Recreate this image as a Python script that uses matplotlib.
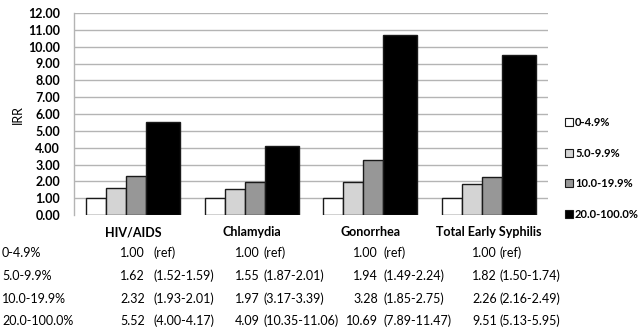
import numpy as np
import matplotlib.pyplot as plt

# ------------------------------------------------------------
#  Data
# ------------------------------------------------------------
categories = ["HIV/AIDS", "Chlamydia", "Gonorrhea", "Total Early Syphilis"]
groups = ["0-4.9%", "5.0-9.9%", "10.0-19.9%", "20.0-100.0%"]

irr_low = [1.00, 1.00, 1.00, 1.00]          # 0-4.9%
irr_mid = [1.62, 1.55, 1.94, 1.82]          # 5.0-9.9%
irr_high = [2.32, 1.97, 3.28, 2.26]         # 10.0-19.9%
irr_top = [5.52, 4.09, 10.69, 9.51]         # 20.0-100.0%

ci_low = ["(ref)", "(ref)", "(ref)", "(ref)"]
ci_mid = ["(1.52-1.59)", "(1.87-2.01)", "(1.49-2.24)", "(1.50-1.74)"]
ci_high = ["(1.93-2.01)", "(3.17-3.39)", "(1.85-2.75)", "(2.16-2.49)"]
ci_top = ["(4.00-4.17)", "(10.35-11.06)", "(7.89-11.47)", "(5.13-5.95)"]

yticks = np.arange(0, 13, 1)

series = [irr_low, irr_mid, irr_high, irr_top]
cis = [ci_low, ci_mid, ci_high, ci_top]

# ------------------------------------------------------------
#  Style
# ------------------------------------------------------------
plt.rcParams["font.family"] = ["Lato", "DejaVu Sans"]
colors = ["#ffffff", "#d4d4d4", "#979797", "#000000"]
# bar left edge offset / width (category spacing = 1)
offsets = [-0.397, -0.228, -0.059, 0.110]
widths = [0.169, 0.169, 0.169, 0.287]

W, H = 638, 328
fig = plt.figure(figsize=(W / 100, H / 100), dpi=100)
ax = fig.add_axes([74 / W, 1 - 215 / H, 474 / W, 202 / H])

x = np.arange(len(categories))
for vals, col, off, w in zip(series, colors, offsets, widths):
    ax.bar(x + off, vals, width=w, align="edge", color=col,
           edgecolor="#1a1a1a", linewidth=1.0, zorder=3)

ax.set_xlim(-0.5, len(categories) - 0.5)
ax.set_ylim(0, 12)
ax.set_yticks(yticks)
ax.set_yticklabels([f"{v:.2f}" for v in yticks], fontsize=9,
                   fontweight="bold")
ax.tick_params(axis="y", length=0, pad=10)
ax.set_xticks(x)
ax.set_xticklabels(categories, fontsize=9, fontweight="bold")
ax.tick_params(axis="x", length=0, pad=8)

for v in yticks[1:]:
    ax.axhline(v, color="#b4b4b4", linewidth=1.0, zorder=1)

for s in ["top", "right", "bottom"]:
    ax.spines[s].set_visible(False)
ax.spines["left"].set_color("#b4b4b4")
ax.spines["left"].set_linewidth(1.0)

fig.text(18 / W, 1 - 115 / H, "IRR", rotation=90, fontsize=9,
         ha="center", va="center")

# legend (drawn manually to match layout)
leg_y = [122, 153, 183, 214]
for lab, col, yy in zip(groups, colors, leg_y):
    fig.patches.append(plt.Rectangle((565 / W, 1 - (yy + 4) / H), 8 / W, 8 / H,
                                     transform=fig.transFigure,
                                     facecolor=col, edgecolor="#1a1a1a",
                                     linewidth=0.8))
    fig.text(575 / W, 1 - yy / H, lab, fontsize=8, fontweight="bold",
             ha="left", va="center")

# table underneath
row_y = [253, 276, 299, 321]
val_right = [145, 260, 378, 497]
ci_left = [154, 264, 384, 500]
for lab, vals, cl, yy in zip(groups, series, cis, row_y):
    fig.text(2 / W, 1 - yy / H, lab, fontsize=9, ha="left", va="center")
    for v, c, xr, xc in zip(vals, cl, val_right, ci_left):
        fig.text(xr / W, 1 - yy / H, f"{v:.2f}", fontsize=9,
                 ha="right", va="center")
        fig.text(xc / W, 1 - yy / H, c, fontsize=9,
                 ha="left", va="center")

fig.savefig("out.png", dpi=100)
